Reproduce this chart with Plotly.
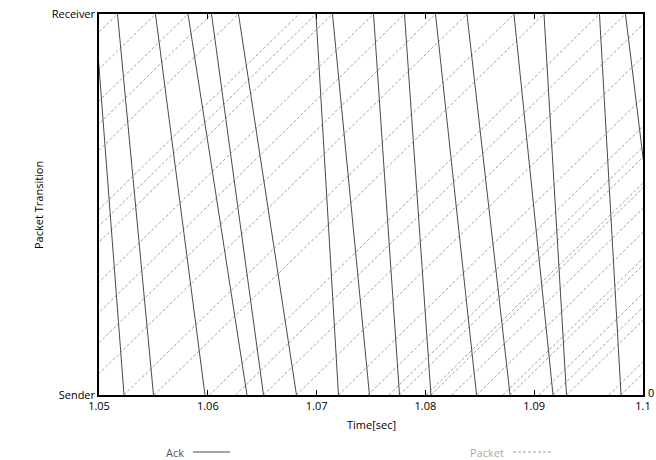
import plotly.graph_objects as go

# ACK segments: leave the receiver (top) and arrive at the sender (bottom)
ack_sent = [1.04963, 1.05170, 1.05519, 1.05818, 1.06034, 1.06282, 1.06994, 1.07146,
            1.07523, 1.07808, 1.08093, 1.08382, 1.08814, 1.09090, 1.09600, 1.09839]
ack_recv = [1.05230, 1.05501, 1.05974, 1.06360, 1.06512, 1.06815, 1.07201, 1.07486,
            1.07762, 1.08051, 1.08470, 1.08778, 1.09173, 1.09297, 1.09798, 1.10267]

# Data packets: leave the sender (bottom) and arrive at the receiver (top)
pkt_sent = [1.01379, 1.01585, 1.01935, 1.02233, 1.02449, 1.02698, 1.03254, 1.03410,
            1.03562, 1.03938, 1.04223, 1.04508, 1.04798, 1.05230, 1.05506, 1.06016,
            1.06255, 1.06512, 1.06815, 1.07201, 1.07472, 1.07665, 1.07762, 1.08006,
            1.08051, 1.08244, 1.08470, 1.08713, 1.08778, 1.09044, 1.09173, 1.09297,
            1.09688, 1.09798]
pkt_recv = [1.04963, 1.05170, 1.05519, 1.05818, 1.06034, 1.06282, 1.06838, 1.06994,
            1.07146, 1.07523, 1.07808, 1.08093, 1.08382, 1.08814, 1.09090, 1.09600,
            1.09839, 1.10097, 1.10400, 1.10786, 1.11057, 1.11250, 1.11347, 1.11591,
            1.11636, 1.11829, 1.12055, 1.12298, 1.12363, 1.12629, 1.12758, 1.12882,
            1.13273, 1.13383]

x_ticks = [1.05, 1.06, 1.07, 1.08, 1.09, 1.1]
x_tick_text = ["1.05", "1.06", "1.07", "1.08", "1.09", "1.1"]
y_ticks = [0, 1]
y_tick_text = ["Sender", "Receiver"]

FONT = "Open Sans"
ACK_COLOR = "#4a4a4a"
PKT_COLOR = "#a2a2a2"
W, H = 656, 460


def segments(starts, ends, y0, y1):
    xs, ys = [], []
    for a, b in zip(starts, ends):
        xs += [a, b, None]
        ys += [y0, y1, None]
    return xs, ys


def fx(px):
    return px / W


def fy(py):
    return (H - py) / H


fig = go.Figure()

px_, py_ = segments(pkt_sent, pkt_recv, 0, 1)
fig.add_trace(go.Scatter(x=px_, y=py_, mode="lines", name="Packet",
                         line=dict(color=PKT_COLOR, width=1, dash="3px,2px"),
                         showlegend=False, hoverinfo="skip"))

ax_, ay_ = segments(ack_sent, ack_recv, 1, 0)
fig.add_trace(go.Scatter(x=ax_, y=ay_, mode="lines", name="Ack",
                         line=dict(color=ACK_COLOR, width=1),
                         showlegend=False, hoverinfo="skip"))

# plot box spans x 99..643 px and y 14..395 px of the page
fig.update_xaxes(domain=[fx(99), fx(643)],
                 range=[1.05, 1.1], tickvals=x_ticks, ticktext=x_tick_text,
                 showgrid=False, zeroline=False, showline=True, mirror="ticks",
                 linecolor="black", linewidth=1.5, ticks="inside", ticklen=5,
                 tickcolor="black", tickwidth=1, automargin=False,
                 tickfont=dict(family=FONT, size=11, color="black"))
fig.update_yaxes(domain=[fy(395), fy(14)],
                 range=[0, 1], tickvals=y_ticks, ticktext=y_tick_text,
                 showgrid=False, zeroline=False, showline=True, mirror=True,
                 linecolor="black", linewidth=1.5, ticks="", automargin=False,
                 tickfont=dict(family=FONT, size=11, color="black"))

annotations = [
    dict(text="Time[sec]", x=fx(371), y=fy(424), xref="paper", yref="paper",
         xanchor="center", yanchor="middle", showarrow=False,
         font=dict(family=FONT, size=11, color="black")),
    dict(text="Packet Transition", x=fx(38), y=fy(205), xref="paper", yref="paper",
         xanchor="center", yanchor="middle", textangle=-90, showarrow=False,
         font=dict(family=FONT, size=11, color="black")),
    dict(text="0", x=fx(647), y=fy(392), xref="paper", yref="paper",
         xanchor="left", yanchor="middle", showarrow=False, borderpad=0,
         font=dict(family=FONT, size=11, color="black")),
    dict(text="Ack", x=fx(186), y=fy(452), xref="paper", yref="paper",
         xanchor="right", yanchor="middle", showarrow=False,
         font=dict(family=FONT, size=11, color="#555555")),
    dict(text="Packet", x=fx(506), y=fy(452), xref="paper", yref="paper",
         xanchor="right", yanchor="middle", showarrow=False,
         font=dict(family=FONT, size=11, color="#aaaaaa")),
]

shapes = [
    dict(type="line", xref="paper", yref="paper", x0=fx(193), x1=fx(230),
         y0=fy(452), y1=fy(452), line=dict(color=ACK_COLOR, width=1)),
    dict(type="line", xref="paper", yref="paper", x0=fx(513), x1=fx(552),
         y0=fy(452), y1=fy(452),
         line=dict(color=PKT_COLOR, width=1, dash="3px,2px")),
]

fig.update_layout(width=W, height=H,
                  margin=dict(l=0, r=0, t=0, b=0, pad=0, autoexpand=False),
                  paper_bgcolor="white", plot_bgcolor="white",
                  annotations=annotations, shapes=shapes,
                  showlegend=False)

fig.write_html("out.html")
